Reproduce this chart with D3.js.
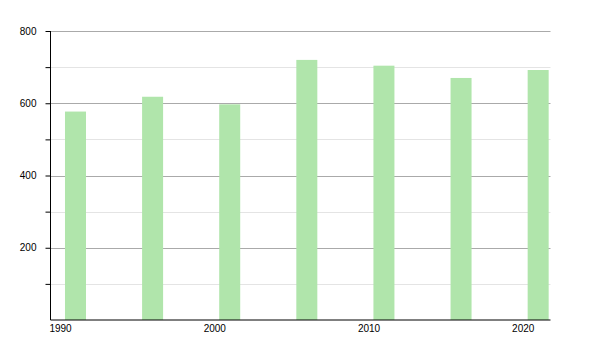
<!DOCTYPE html>
<html>
<head>
<meta charset="utf-8">
<script src="https://cdn.jsdelivr.net/npm/d3@7"></script>
<style>
  body { margin: 0; background: #fff; }
  text { font-family: "Liberation Sans", Arial, sans-serif; font-size: 10px; fill: #000; }
</style>
</head>
<body>
<svg width="600" height="350"></svg>
<script>
  const years = [1991, 1996, 2001, 2006, 2011, 2016, 2021];
  const values = [577, 618, 597, 720, 704, 670, 692];
  const majorTicks = [200, 400, 600, 800];
  const minorTicks = [100, 300, 500, 700];
  const xTicks = [1990, 2000, 2010, 2020];

  const svg = d3.select('svg');
  const plotLeft = 50.5, plotRight = 550.5, plotTop = 31, plotBottom = 320;

  const x = d3.scaleLinear().domain([1989.38, 2021.8]).range([plotLeft, plotRight]);
  const y = d3.scaleLinear().domain([0, 800]).range([plotBottom, plotTop]);

  // grid
  svg.append('g').selectAll('line').data(minorTicks)
    .enter().append('line')
      .attr('x1', plotLeft).attr('x2', plotRight)
      .attr('y1', d => Math.round(y(d)) + 0.5).attr('y2', d => Math.round(y(d)) + 0.5)
      .attr('stroke', '#e4e4e4');
  svg.append('g').selectAll('line').data(majorTicks)
    .enter().append('line')
      .attr('x1', plotLeft).attr('x2', plotRight)
      .attr('y1', d => Math.round(y(d)) + 0.5).attr('y2', d => Math.round(y(d)) + 0.5)
      .attr('stroke', '#aaa');

  // bars
  const barW = 21;
  svg.append('g').selectAll('rect').data(years)
    .enter().append('rect')
      .attr('x', d => x(d) - barW / 2)
      .attr('y', (d, i) => y(values[i]))
      .attr('width', barW)
      .attr('height', (d, i) => plotBottom - y(values[i]))
      .attr('fill', '#b0e5ab');

  // y axis
  const yAxis = svg.append('g')
    .attr('transform', `translate(${plotLeft},0)`)
    .call(d3.axisLeft(y).tickValues(majorTicks.concat(minorTicks)).tickSize(5).tickPadding(9)
      .tickFormat(d => majorTicks.includes(d) ? d : ''));
  yAxis.select('.domain').attr('d', `M0,${plotTop}V${plotBottom}`).attr('stroke', '#000');
  yAxis.selectAll('.tick line').attr('stroke', '#000');
  yAxis.selectAll('text').style('font-family', '"Liberation Sans", Arial, sans-serif').style('font-size', '10px').attr('fill', '#000');

  // x axis
  const xAxis = svg.append('g')
    .attr('transform', `translate(0,${plotBottom})`)
    .call(d3.axisBottom(x).tickValues(xTicks).tickSize(0).tickPadding(4.5).tickFormat(d3.format('d')));
  xAxis.select('.domain').attr('d', `M${plotLeft},0H${plotRight}`).attr('stroke', '#000');
  xAxis.selectAll('text').style('font-family', '"Liberation Sans", Arial, sans-serif').style('font-size', '10px').attr('fill', '#000');
</script>
</body>
</html>
